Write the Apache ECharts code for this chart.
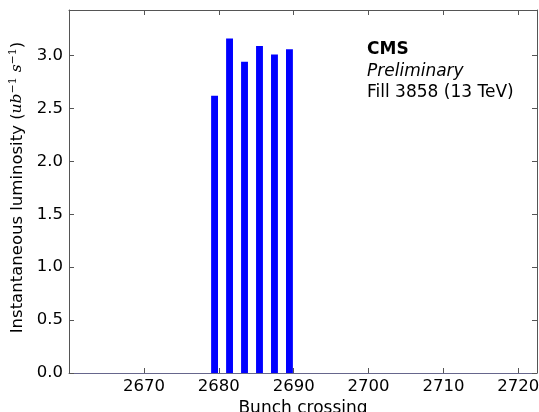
<!DOCTYPE html>
<html>
<head>
<meta charset="utf-8">
<script src="https://cdn.jsdelivr.net/npm/echarts@6/dist/echarts.min.js"></script>
<style>
html,body{margin:0;padding:0;background:#fff;}
#c{width:539px;height:412px;}
</style>
</head>
<body>
<div id="c"></div>
<script>
// Data
const bunchCrossings = [2679, 2681, 2683, 2685, 2687, 2689];
const luminosity = [2.62, 3.16, 2.94, 3.09, 3.01, 3.06];
const xTickValues = [2670, 2680, 2690, 2700, 2710, 2720];
const yTickValues = [0.0, 0.5, 1.0, 1.5, 2.0, 2.5, 3.0];
const annotations = ['CMS', 'Preliminary', 'Fill 3858 (13 TeV)'];

const FONT = 'DejaVu Sans';
const frameColor = '#555';
const chart = echarts.init(document.getElementById('c'), null, {renderer: 'canvas'});

const xLabelFmt = v => (xTickValues.indexOf(Math.round(v)) >= 0 && Math.abs(v - Math.round(v)) < 1e-6) ? String(Math.round(v)) : '';
const yLabelFmt = v => {
  for (const t of yTickValues) if (Math.abs(t - v) < 1e-6) return t.toFixed(1);
  return '';
};

const xBase = {
  type: 'value', min: 2660, max: 2722.5, interval: 10,
  splitLine: {show: false},
  axisTick: {show: true, inside: true, length: 5, lineStyle: {color: frameColor}},
};
const yBase = {
  type: 'value', min: 0, max: 3.43, interval: 0.5,
  splitLine: {show: false},
  axisTick: {show: true, inside: true, length: 5, lineStyle: {color: frameColor}},
};

chart.setOption({
  animation: false,
  backgroundColor: '#fff',
  grid: {left: 69, right: 2, top: 10, bottom: 39, containLabel: false, outerBoundsMode: 'none'},
  xAxis: [
    Object.assign({}, xBase, {
      position: 'bottom',
      axisLine: {show: true, onZero: false, lineStyle: {color: '#66668c', width: 1}},
      axisLabel: {show: true, formatter: xLabelFmt, fontFamily: FONT, fontSize: 16.5, color: '#000', margin: 5, showMinLabel: false, showMaxLabel: false},
      name: 'Bunch crossing', nameLocation: 'middle', nameGap: 23,
      nameTextStyle: {fontFamily: FONT, fontSize: 17, color: '#000'}
    }),
    Object.assign({}, xBase, {
      position: 'top',
      axisLine: {show: true, onZero: false, lineStyle: {color: frameColor, width: 1}},
      axisLabel: {show: false}
    })
  ],
  yAxis: [
    Object.assign({}, yBase, {
      position: 'left',
      axisLine: {show: true, onZero: false, lineStyle: {color: frameColor, width: 1}},
      axisLabel: {show: true, formatter: yLabelFmt, fontFamily: FONT, fontSize: 16.5, color: '#000', margin: 6, showMaxLabel: false},
      name: '{n|Instantaneous luminosity (}{m|ub}{s|−1}{m| s}{s|−1}{n|)}',
      nameLocation: 'middle', nameRotate: 90, nameGap: 34,
      nameTextStyle: {
        fontFamily: FONT, fontSize: 16.5, color: '#000',
        padding: [0, 0, 0, 8],
        rich: {
          n: {fontFamily: FONT, fontSize: 16.5, color: '#000', lineHeight: 20},
          m: {fontFamily: 'DejaVu Serif', fontStyle: 'italic', fontSize: 15.5, color: '#000', lineHeight: 20},
          s: {fontFamily: 'DejaVu Serif', fontSize: 11, color: '#000', verticalAlign: 'top', lineHeight: 20}
        }
      }
    }),
    Object.assign({}, yBase, {
      position: 'right',
      axisLine: {show: true, onZero: false, lineStyle: {color: frameColor, width: 1}},
      axisLabel: {show: false}
    })
  ],
  series: [{
    type: 'custom',
    xAxisIndex: 0, yAxisIndex: 0,
    data: bunchCrossings.map((b, i) => [b, luminosity[i]]),
    renderItem: function (params, api) {
      const x = api.value(0), y = api.value(1);
      const p0 = api.coord([x - 0.02, y]);
      const p1 = api.coord([x + 0.9, 0]);
      return {
        type: 'rect',
        shape: {x: p0[0], y: p0[1], width: p1[0] - p0[0], height: p1[1] - p0[1]},
        style: {fill: '#0000ff'}
      };
    }
  }],
  graphic: [
    {type: 'text', left: 367, top: 41, style: {text: annotations[0], font: 'bold 17px "DejaVu Sans"', fill: '#000'}},
    {type: 'text', left: 367, top: 63, style: {text: annotations[1], font: 'italic 17px "DejaVu Sans"', fill: '#000'}},
    {type: 'text', left: 367, top: 84, style: {text: annotations[2], font: '17px "DejaVu Sans"', fill: '#000'}}
  ]
});
</script>
</body>
</html>
